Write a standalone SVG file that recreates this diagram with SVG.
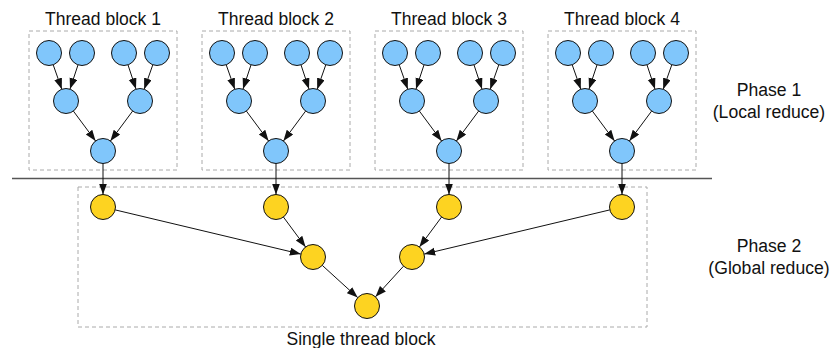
<svg xmlns="http://www.w3.org/2000/svg" width="830" height="348" viewBox="0 0 830 348">
<defs>
<style>
text{font-family:"Liberation Sans",Arial,sans-serif;font-size:17.5px;fill:#111;text-anchor:middle}
.ph{font-size:17.6px}
.box{fill:none;stroke:#aaa;stroke-width:1;stroke-dasharray:4,3}
.b{fill:#80c6fb;stroke:#111;stroke-width:1}
.y{fill:#fdd321;stroke:#111;stroke-width:1}
.e{stroke:#111;stroke-width:1;fill:none;marker-end:url(#ah)}
.sep{stroke:#555;stroke-width:1.3}
</style>
<marker id="ah" markerUnits="userSpaceOnUse" markerWidth="12" markerHeight="9" refX="11" refY="4" orient="auto">
<path d="M0,0 L11,4 L0,8 z" fill="#111"/>
</marker>
<g id="tree">
<circle class="b" cx="49" cy="53" r="12.5"/>
<circle class="b" cx="82" cy="53" r="12.5"/>
<circle class="b" cx="124" cy="53" r="12.5"/>
<circle class="b" cx="157" cy="53" r="12.5"/>
<circle class="b" cx="66" cy="101" r="12.5"/>
<circle class="b" cx="140" cy="101" r="12.5"/>
<circle class="b" cx="103" cy="151" r="12.5"/>
<path class="e" d="M53.2,64.8 L61.8,89.2"/>
<path class="e" d="M78,64.9 L70,89.1"/>
<path class="e" d="M128,64.9 L136,89.1"/>
<path class="e" d="M152.8,64.8 L144.2,89.2"/>
<path class="e" d="M73.4,111.1 L95.6,141"/>
<path class="e" d="M132.6,111.1 L110.4,141"/>
</g>
</defs>

<line class="sep" x1="12" y1="178.5" x2="712" y2="178.5"/>

<g id="block1">
<rect class="box" x="29" y="31" width="148" height="139"/>
<text x="103" y="25">Thread block 1</text>
<use href="#tree"/>
</g>
<g id="block2">
<rect class="box" x="202" y="31" width="148" height="139"/>
<text x="276" y="25">Thread block 2</text>
<use href="#tree" x="173"/>
</g>
<g id="block3">
<rect class="box" x="375" y="31" width="148" height="139"/>
<text x="449" y="25">Thread block 3</text>
<use href="#tree" x="346"/>
</g>
<g id="block4">
<rect class="box" x="548" y="31" width="148" height="139"/>
<text x="622" y="25">Thread block 4</text>
<use href="#tree" x="519"/>
</g>

<g id="single-block">
<rect class="box" x="78" y="187" width="569" height="140"/>
<text x="361" y="345">Single thread block</text>
</g>

<g id="y1"><circle class="y" cx="103" cy="207" r="12.5"/></g>
<g id="y2"><circle class="y" cx="276" cy="207" r="12.5"/></g>
<g id="y3"><circle class="y" cx="449" cy="207" r="12.5"/></g>
<g id="y4"><circle class="y" cx="622" cy="207" r="12.5"/></g>
<g id="g1"><circle class="y" cx="313" cy="257" r="12.5"/></g>
<g id="g2"><circle class="y" cx="412" cy="257" r="12.5"/></g>
<g id="root"><circle class="y" cx="367" cy="306" r="12.5"/></g>

<g id="connectors">
<path class="e" d="M103,163.5 L103,194.5"/>
<path class="e" d="M276,163.5 L276,194.5"/>
<path class="e" d="M449,163.5 L449,194.5"/>
<path class="e" d="M622,163.5 L622,194.5"/>
<path class="e" d="M115.2,209.9 L300.8,254.1"/>
<path class="e" d="M283.4,217 L305.6,247"/>
<path class="e" d="M441.6,217 L419.4,247"/>
<path class="e" d="M609.8,209.9 L424.2,254.1"/>
<path class="e" d="M322.3,265.4 L357.7,297.6"/>
<path class="e" d="M403.5,266.2 L375.5,296.8"/>
</g>

<g id="phase1">
<text class="ph" x="769" y="96">Phase 1</text>
<text class="ph" x="769" y="118">(Local reduce)</text>
</g>
<g id="phase2">
<text class="ph" x="769" y="252">Phase 2</text>
<text class="ph" x="769" y="274">(Global reduce)</text>
</g>
</svg>
